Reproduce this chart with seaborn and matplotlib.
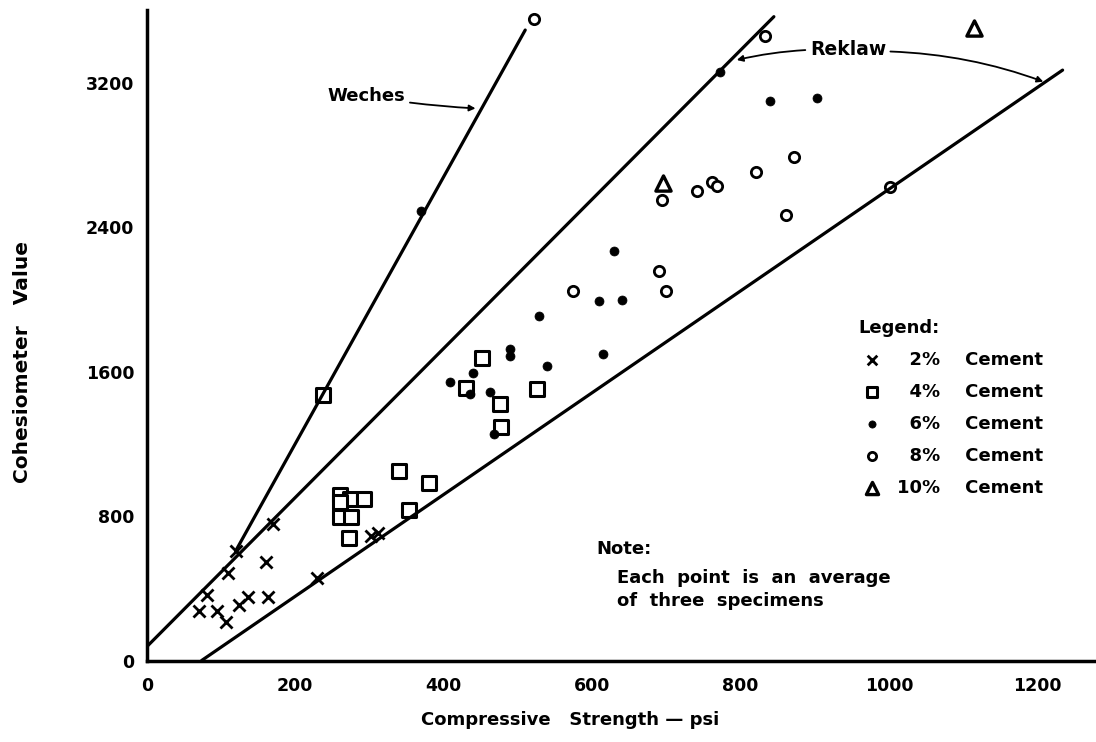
import numpy as np
import pandas as pd
import matplotlib
matplotlib.use("Agg")
import matplotlib.pyplot as plt
import seaborn as sns

sns.set_theme(style="white")
plt.rcParams['font.family'] = ['DejaVu Sans']
plt.rcParams['font.weight'] = 'bold'
plt.rcParams['text.color'] = 'black'
plt.rcParams['axes.labelcolor'] = 'black'

# ---- data (Compressive strength psi, Cohesiometer value) ----
x2 = [170, 120, 110, 161, 81, 70, 95, 107, 124, 136, 163, 229, 302, 311]
y2 = [756, 608, 486, 547, 363, 276, 276, 215, 307, 353, 353, 455, 690, 708]

x4 = [238, 340, 380, 260, 274, 293, 260, 261, 275, 273, 353, 452, 430, 526, 476, 478]
y4 = [1471, 1050, 982, 917, 893, 893, 880, 797, 797, 677, 834, 1678, 1511, 1502, 1421, 1292]

x6 = [630, 609, 641, 529, 490, 490, 440, 409, 435, 462, 540, 615, 468, 772, 840, 903, 370]
y6 = [2270, 1993, 1997, 1909, 1726, 1687, 1591, 1541, 1475, 1488, 1633, 1698, 1255, 3262, 3100, 3118, 2492]

x8 = [575, 690, 700, 833, 694, 741, 762, 768, 821, 872, 862, 1002, 522]
y8 = [2047, 2160, 2047, 3460, 2551, 2601, 2653, 2630, 2705, 2788, 2466, 2625, 3552]

x10 = [695, 1115]
y10 = [2647, 3502]

weches_x = [120, 510]
weches_y = [608, 3493]
upper_x = [0, 845]
upper_y = [76, 3567]
lower_x = [74, 1234]
lower_y = [0, 3271]

series_labels = ["  2%    Cement", "  4%    Cement", "  6%    Cement", "  8%    Cement", "10%    Cement"]
x_ticks = [0, 200, 400, 600, 800, 1000, 1200]
y_ticks = [0, 800, 1600, 2400, 3200]

W, H = 1096, 742
def fx(px):
    return px / W
def fy(py):
    return 1 - py / H

fig = plt.figure(figsize=(10.96, 7.42), dpi=100)
ax = fig.add_axes([fx(146.7), fy(660.5), fx(1096) - fx(146.7), fy(10) - fy(660.5)])

# envelope lines
for lx, ly in [(weches_x, weches_y), (upper_x, upper_y), (lower_x, lower_y)]:
    sns.lineplot(x=lx, y=ly, ax=ax, color="black", linewidth=2.3,
                 estimator=None, sort=False)

# points
sns.scatterplot(x=x2, y=y2, ax=ax, marker="x", color="black", s=75, linewidth=2.0)
sns.scatterplot(x=x4, y=y4, ax=ax, marker="s", facecolor="white", edgecolor="black",
                s=95, linewidth=2.2)
sns.scatterplot(x=x6, y=y6, ax=ax, marker="o", facecolor="black", edgecolor="black",
                s=42, linewidth=0.5)
sns.scatterplot(x=x8, y=y8, ax=ax, marker="o", facecolor="white", edgecolor="black",
                s=55, linewidth=2.0)
sns.scatterplot(x=x10, y=y10, ax=ax, marker="^", facecolor="white", edgecolor="black",
                s=120, linewidth=2.4)

handles = list(ax.collections[-5:])
leg = ax.legend(handles, series_labels, loc="upper left",
                bbox_to_anchor=(fx(858), fy(319)), bbox_transform=fig.transFigure,
                frameon=False, title="Legend:", alignment="left",
                prop={"weight": "bold", "size": 13},
                title_fontproperties={"weight": "bold", "size": 13},
                handlelength=1.6, handletextpad=0.55, labelspacing=0.77,
                borderpad=0, borderaxespad=0, markerscale=0.8)
for t in leg.get_texts():
    t.set_color("black")
leg.get_title().set_color("black")

# axes styling
ax.set_xlim(0, 1279)
ax.set_ylim(0, 3604)
ax.set_xticks(x_ticks)
ax.set_yticks(y_ticks)
ax.set_xticklabels([str(v) for v in x_ticks])
ax.set_yticklabels([str(v) for v in y_ticks])
for s in ["top", "right"]:
    ax.spines[s].set_visible(False)
for s in ["left", "bottom"]:
    ax.spines[s].set_color("black")
    ax.spines[s].set_linewidth(2.5)
ax.tick_params(axis="both", direction="in", length=7, width=1.6, colors="black",
               labelsize=12.5)
ax.tick_params(axis="x", pad=12)
ax.tick_params(axis="y", pad=9)
for lab in ax.get_xticklabels() + ax.get_yticklabels():
    lab.set_fontweight("bold")
ax.grid(False)
ax.set_facecolor("white")

ax.set_xlabel("")
ax.set_ylabel("")
fig.text(fx(570), fy(720), "Compressive   Strength — psi", ha="center", va="center",
         fontsize=13, fontweight="bold", color="black")
fig.text(fx(23), fy(362), "Cohesiometer   Value", ha="center", va="center",
         rotation=90, fontsize=14.5, fontweight="bold", color="black")

# annotations
arrow_kw = dict(arrowstyle="-|>", color="black", lw=1.3, mutation_scale=9)
ax.annotate("Weches", xy=(443, 3059), xytext=(296, 3127), ha="center", va="center",
            fontsize=13, fontweight="bold", color="black",
            arrowprops=dict(**arrow_kw, shrinkA=1, shrinkB=0,
                            connectionstyle="arc3,rad=0.03"))
ax.annotate("Reklaw", xy=(795, 3327), xytext=(945, 3383), ha="center", va="center",
            fontsize=13.5, fontweight="bold", color="black",
            arrowprops=dict(**arrow_kw, shrinkA=1, shrinkB=0,
                            connectionstyle="arc3,rad=0.07"))
ax.annotate("", xy=(1208, 3207), xytext=(1002, 3374),
            arrowprops=dict(**arrow_kw, shrinkA=0, shrinkB=0,
                            connectionstyle="arc3,rad=-0.08"))

# note
note_fs = 13
fig.text(fx(596), fy(549), "Note:", ha="left", va="center", fontsize=note_fs,
         fontweight="bold", color="black")
fig.text(fx(617), fy(578), "Each  point  is  an  average", ha="left", va="center",
         fontsize=note_fs, fontweight="bold", color="black")
fig.text(fx(617), fy(601), "of  three  specimens", ha="left", va="center",
         fontsize=note_fs, fontweight="bold", color="black")

fig.savefig("out.png", dpi=100, facecolor="white")
